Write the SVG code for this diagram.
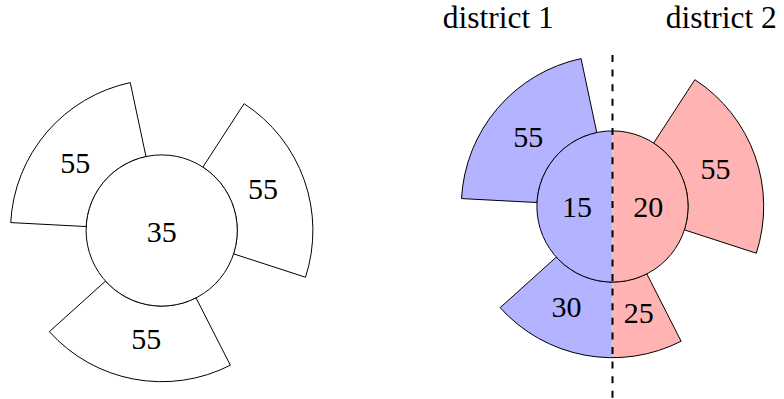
<svg xmlns="http://www.w3.org/2000/svg" width="784" height="399" viewBox="0 0 784 399">
  <style>
    .outline { fill: none; stroke: #000; stroke-width: 1; stroke-linejoin: round; }
    .white { fill: #fff; stroke: #000; stroke-width: 1; }
    .blue { fill: #b3b3ff; stroke: none; }
    .red { fill: #ffb3b3; stroke: none; }
    .lbl { font-family: "Liberation Serif", "Times New Roman", serif; font-size: 30px; text-anchor: middle; fill: #000; }
    .title { font-family: "Liberation Serif", "Times New Roman", serif; font-size: 31.5px; text-anchor: middle; fill: #000; }
    .divider { stroke: #000; stroke-width: 2; stroke-dasharray: 7 7.6; fill: none; }
  </style>
  <defs>
    <path id="petalA" d="M -15.72 -73.95 L -31.44 -147.90 A 151.2 151.2 0 0 0 -150.99 -7.91 L -75.50 -3.96 A 75.6 75.6 0 0 1 -15.72 -73.95 Z"/>
    <path id="petalB" d="M 71.90 23.36 L 143.80 46.72 A 151.2 151.2 0 0 0 82.35 -126.81 L 41.17 -63.40 A 75.6 75.6 0 0 1 71.90 23.36 Z"/>
    <path id="petalC" d="M -56.18 50.59 L -112.36 101.17 A 151.2 151.2 0 0 0 68.64 134.72 L 34.32 67.36 A 75.6 75.6 0 0 1 -56.18 50.59 Z"/>
    <clipPath id="leftHalf" clipPathUnits="userSpaceOnUse"><rect x="-200" y="-200" width="200" height="400"/></clipPath>
    <clipPath id="rightHalf" clipPathUnits="userSpaceOnUse"><rect x="0" y="-200" width="200" height="400"/></clipPath>
  </defs>

  <!-- Left chart -->
  <g id="left-chart" transform="translate(161.7 230.5)">
    <g id="left-petal-top"><use href="#petalA" class="white"/></g>
    <g id="left-petal-right"><use href="#petalB" class="white"/></g>
    <g id="left-petal-bottom"><use href="#petalC" class="white"/></g>
    <g id="left-center"><circle cx="0" cy="0" r="75.6" class="white"/></g>
  </g>
  <g id="left-labels">
    <text class="lbl" x="161.7" y="241.5">35</text>
    <text class="lbl" x="75.2" y="173.3">55</text>
    <text class="lbl" x="263" y="199.3">55</text>
    <text class="lbl" x="146.3" y="349.3">55</text>
  </g>

  <!-- Right chart -->
  <g id="right-chart" transform="translate(612.5 206.5)">
    <g id="right-petal-top">
      <use href="#petalA" class="blue"/>
      <use href="#petalA" class="outline"/>
    </g>
    <g id="right-petal-right">
      <use href="#petalB" class="red"/>
      <use href="#petalB" class="outline"/>
    </g>
    <g id="right-petal-bottom">
      <use href="#petalC" class="blue" clip-path="url(#leftHalf)"/>
      <use href="#petalC" class="red" clip-path="url(#rightHalf)"/>
      <use href="#petalC" class="outline"/>
    </g>
    <g id="right-center">
      <circle cx="0" cy="0" r="75.6" class="blue" clip-path="url(#leftHalf)"/>
      <circle cx="0" cy="0" r="75.6" class="red" clip-path="url(#rightHalf)"/>
      <circle cx="0" cy="0" r="75.6" class="outline"/>
    </g>
  </g>

  <g id="connectors">
    <line id="divider" class="divider" x1="612.5" y1="55" x2="612.5" y2="399"/>
  </g>

  <g id="right-labels">
    <text class="lbl" x="528.3" y="146.7">55</text>
    <text class="lbl" x="577" y="216.5">15</text>
    <text class="lbl" x="648.3" y="216.5">20</text>
    <text class="lbl" x="715.5" y="179.3">55</text>
    <text class="lbl" x="566.5" y="316.7">30</text>
    <text class="lbl" x="638.7" y="322.5">25</text>
  </g>

  <g id="titles">
    <text class="title" x="498.3" y="28">district 1</text>
    <text class="title" x="721.3" y="28">district 2</text>
  </g>
</svg>
